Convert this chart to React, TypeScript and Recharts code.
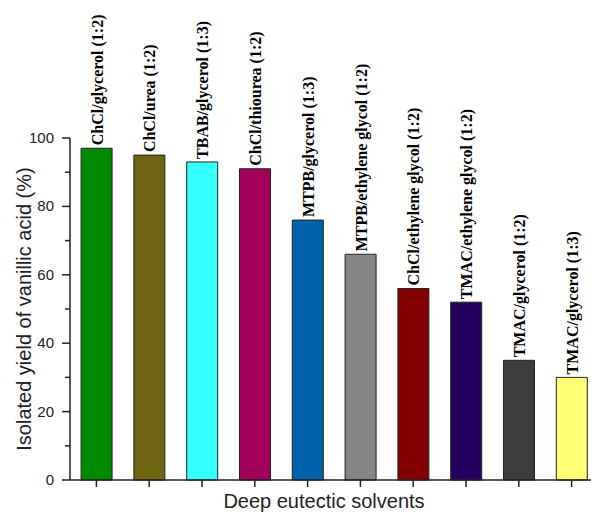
import React from 'react';
import { BarChart, Bar, XAxis, YAxis, Cell, LabelList } from 'recharts';

const solvents = [
  'ChCl/glycerol (1:2)',
  'ChCl/urea (1:2)',
  'TBAB/glycerol (1:3)',
  'ChCl/thiourea (1:2)',
  'MTPB/glycerol (1:3)',
  'MTPB/ethylene glycol (1:2)',
  'ChCl/ethylene glycol (1:2)',
  'TMAC/ethylene glycol (1:2)',
  'TMAC/glycerol (1:2)',
  'TMAC/glycerol (1:3)',
];
const yields = [97, 95, 93, 91, 76, 66, 56, 52, 35, 30];
const barColors = [
  '#008a00', '#6e6412', '#33ffff', '#a3005c', '#0062a8',
  '#858585', '#820000', '#26005e', '#3d3d3d', '#ffff73',
];
const yTicks = [0, 10, 20, 30, 40, 50, 60, 70, 80, 90, 100];
const minorXTicks = [0, 1, 2, 3, 4, 5, 6, 7, 8, 9, 10];

const data = solvents.map((name, i) => ({ name, value: yields[i], slot: i + 0.5 }));

const sans = 'Liberation Sans, Arial, sans-serif';
const serif = 'Liberation Serif, Times New Roman, serif';

function YTick(props: any) {
  const { x, y, payload } = props;
  const major = payload.value % 20 === 0;
  return (
    <g>
      <line x1={x} x2={x - (major ? 8 : 5)} y1={y} y2={y} stroke="#222" strokeWidth={1.5} />
      {major && (
        <text x={x - 16} y={y} dy={5} textAnchor="end" fontSize={15} fontFamily={sans} fill="#222">
          {payload.value}
        </text>
      )}
    </g>
  );
}

function XTick(props: any) {
  const { x, y } = props;
  return <line x1={x} x2={x} y1={y} y2={y + 7} stroke="#222" strokeWidth={1.5} />;
}

function MinorXTick(props: any) {
  const { x, y } = props;
  return <line x1={x} x2={x} y1={y} y2={y + 4} stroke="#222" strokeWidth={1.5} />;
}

function BarLabel(props: any) {
  const { x, y, width, value } = props;
  const cx = x + width / 2;
  const ty = y - 3;
  return (
    <text
      x={cx}
      y={ty}
      dy={6}
      transform={`rotate(-90, ${cx}, ${ty})`}
      textAnchor="start"
      fontSize={16}
      fontWeight="bold"
      fontFamily={serif}
      fill="#000"
    >
      {value}
    </text>
  );
}

export default function App() {
  return (
    <div style={{ position: 'absolute', left: 0, top: 0, background: '#fff' }}>
      <BarChart
        width={600}
        height={512}
        data={data}
        margin={{ top: 138, right: 2, left: 0, bottom: 0 }}
        barCategoryGap="21%"
      >
        <XAxis
          xAxisId="minor"
          type="number"
          dataKey="slot"
          domain={[0, 10]}
          ticks={minorXTicks}
          height={0}
          axisLine={false}
          tickLine={false}
          tickSize={0}
          tickMargin={0}
          tick={<MinorXTick />}
        />
        <XAxis
          dataKey="name"
          height={32}
          axisLine={{ stroke: '#222', strokeWidth: 1.5 }}
          tickLine={false}
          tickSize={0}
          tickMargin={0}
          tick={<XTick />}
          interval={0}
          label={{
            content: ({ viewBox }: any) => (
              <text
                x={viewBox.x + viewBox.width / 2 - 10}
                y={508}
                textAnchor="middle"
                fontSize={20}
                fontFamily={sans}
                fill="#222"
              >
                Deep eutectic solvents
              </text>
            ),
          }}
        />
        <YAxis
          width={70}
          domain={[0, 100]}
          ticks={yTicks}
          interval={0}
          axisLine={{ stroke: '#222', strokeWidth: 1.5 }}
          tickLine={false}
          tickSize={0}
          tickMargin={0}
          tick={<YTick />}
          label={{
            content: ({ viewBox }: any) => {
              const cy = viewBox.y + viewBox.height / 2;
              return (
                <text
                  x={31}
                  y={cy}
                  transform={`rotate(-90, 31, ${cy})`}
                  textAnchor="middle"
                  fontSize={20}
                  fontFamily={sans}
                  fill="#222"
                >
                  Isolated yield of vanillic acid (%)
                </text>
              );
            },
          }}
        />
        <Bar dataKey="value" stroke="#222" strokeWidth={1} isAnimationActive={false}>
          {data.map((d, i) => (
            <Cell key={d.name} fill={barColors[i]} />
          ))}
          <LabelList dataKey="name" content={<BarLabel />} />
        </Bar>
      </BarChart>
    </div>
  );
}
